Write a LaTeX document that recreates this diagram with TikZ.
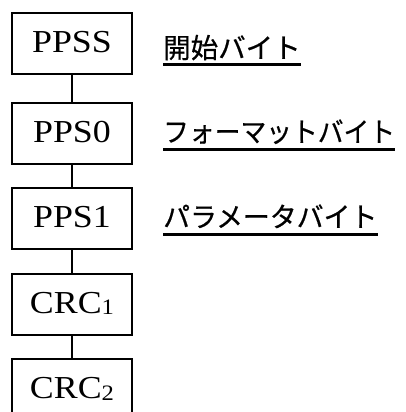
\documentclass[tikz,border=0pt]{standalone}
\usepackage{fontspec}
\setmainfont{Liberation Serif}
\newfontfamily\jpfont[FakeBold=0.6]{Noto Sans CJK JP}
\usetikzlibrary{calc}
\tikzset{
  box/.style={draw, line width=2pt, rectangle, anchor=north west,
    minimum width=120pt, minimum height=61pt, inner sep=0pt,
    font=\fontsize{32}{32}\selectfont},
  link/.style={line width=2pt},
  jp/.style={anchor=base west, inner sep=0pt, font=\jpfont\fontsize{27.5}{27.5}\selectfont},
  uline/.style={line width=3pt}
}
\newcommand{\boxtext}[1]{\raisebox{3pt}{\scalebox{1.12}[1]{#1}}}
\newcommand{\subdig}[1]{\raisebox{-1.5pt}{\fontsize{22}{22}\selectfont #1}}
\begin{document}
\begin{tikzpicture}[x=1pt,y=1pt]
\useasboundingbox (0,0) rectangle (406,-412);
\clip (0,0) rectangle (406,-412);
\node[box] (b1) at (11,-12) {\boxtext{PPSS}};
\node[box] (b2) at (11,-102) {\boxtext{PPS0}};
\node[box] (b3) at (11,-187) {\boxtext{PPS1}};
\node[box] (b4) at (11,-272.5) {\boxtext{CRC\subdig{1}}};
\node[box] (b5) at (11,-358) {\boxtext{CRC\subdig{2}}};
\draw[link] (b1.south) -- (b2.north);
\draw[link] (b2.south) -- (b3.north);
\draw[link] (b3.south) -- (b4.north);
\draw[link] (b4.south) -- (b5.north);
\node[jp] (t1) at (163,-58) {開始バイト};
\node[jp] (t2) at (163,-142) {\scalebox{0.937}[1]{フォーマットバイト}};
\node[jp] (t3) at (163,-227) {\scalebox{0.977}[1]{パラメータバイト}};
\draw[uline] ($(t1.base west)+(0,-7)$) -- ($(t1.base east)+(0,-7)$);
\draw[uline] ($(t2.base west)+(0,-7)$) -- ($(t2.base east)+(0,-7)$);
\draw[uline] ($(t3.base west)+(0,-7)$) -- ($(t3.base east)+(0,-7)$);
\end{tikzpicture}
\end{document}
